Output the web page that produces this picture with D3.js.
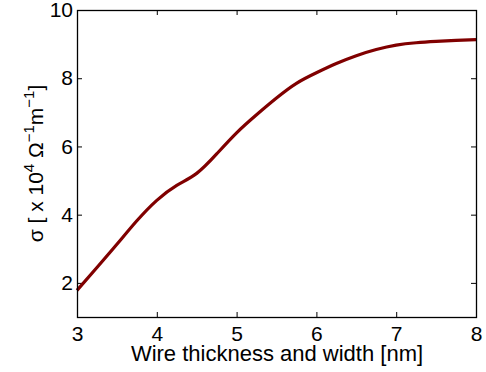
<html>
<head>
<style>
  body { margin: 0; background: #fff; }
  svg { font-family: "Liberation Sans", Arial, sans-serif; }
  .axis text { font-size: 21px; fill: #000; }
  .axis path, .axis line { stroke: #000; }
</style>
</head>
<body>
<svg width="486" height="372"></svg>
<script src="https://d3js.org/d3.v7.min.js"></script>
<script>
// wire thickness [nm] and conductivity [x10^4 Ohm^-1 m^-1]
var thickness = [3, 3.25, 3.5, 3.75, 4, 4.25, 4.5, 4.75, 5, 5.25, 5.5, 5.75, 6, 6.25, 6.5, 6.75, 7, 7.25, 7.5, 7.75, 8];
var sigma = [1.78, 2.45, 3.13, 3.82, 4.42, 4.86, 5.21, 5.78, 6.4, 6.93, 7.42, 7.85, 8.16, 8.43, 8.66, 8.84, 8.97, 9.04, 9.08, 9.11, 9.13];
var xTicks = [3, 4, 5, 6, 7, 8];
var yTicks = [2, 4, 6, 8, 10];

var mLeft = 77, mRight = 476, mTop = 10, mBottom = 317;

var svg = d3.select('svg');

var x = d3.scaleLinear().domain([3, 8]).range([mLeft, mRight]);
var y = d3.scaleLinear().domain([1, 10]).range([mBottom, mTop]);

var xAxis = d3.axisBottom(x).tickValues(xTicks).tickSize(-5).tickPadding(9).tickFormat(d3.format('d'));
var yAxis = d3.axisLeft(y).tickValues(yTicks).tickSize(-5).tickPadding(4).tickFormat(d3.format('d'));

svg.append('g').attr('class', 'axis').attr('transform', 'translate(0,' + mBottom + ')').call(xAxis)
  .call(function(g) { g.select('.domain').remove(); });
svg.append('g').attr('class', 'axis').attr('transform', 'translate(' + mLeft + ',0)').call(yAxis)
  .call(function(g) { g.select('.domain').remove(); });
svg.append('g').attr('class', 'axis').attr('transform', 'translate(0,' + mTop + ')')
  .call(d3.axisTop(x).tickValues(xTicks).tickSize(-5).tickFormat(''))
  .call(function(g) { g.select('.domain').remove(); });
svg.append('g').attr('class', 'axis').attr('transform', 'translate(' + mRight + ',0)')
  .call(d3.axisRight(y).tickValues(yTicks).tickSize(-5).tickFormat(''))
  .call(function(g) { g.select('.domain').remove(); });

var pts = thickness.map(function(t, i) { return [t, sigma[i]]; });
var line = d3.line()
  .x(function(d) { return x(d[0]); })
  .y(function(d) { return y(d[1]); })
  .curve(d3.curveNatural);

svg.append('path').datum(pts)
  .attr('d', line)
  .attr('fill', 'none')
  .attr('stroke', '#800000')
  .attr('stroke-width', 3.2);

// frame
svg.append('rect')
  .attr('x', mLeft + 0.5).attr('y', mTop + 0.5)
  .attr('width', mRight - mLeft).attr('height', mBottom - mTop)
  .attr('fill', 'none').attr('stroke', '#000').attr('stroke-width', 1.3);

// labels
svg.append('text')
  .attr('x', (mLeft + mRight) / 2 + 0.5).attr('y', 361)
  .attr('text-anchor', 'middle').attr('font-size', 22)
  .text('Wire thickness and width [nm]');

var yl = svg.append('text')
  .attr('transform', 'translate(43,' + ((mTop + mBottom) / 2) + ') rotate(-90)')
  .attr('text-anchor', 'middle').attr('font-size', 21);
yl.append('tspan').text('\u03c3 [ x 10');
yl.append('tspan').attr('dy', -9).attr('font-size', 15).text('4');
yl.append('tspan').attr('dy', 9).text(' \u03a9');
yl.append('tspan').attr('dy', -9).attr('font-size', 15).text('\u22121');
yl.append('tspan').attr('dy', 9).text('m');
yl.append('tspan').attr('dy', -9).attr('font-size', 15).text('\u22121');
yl.append('tspan').attr('dy', 9).text(']');
</script>
</body>
</html>
